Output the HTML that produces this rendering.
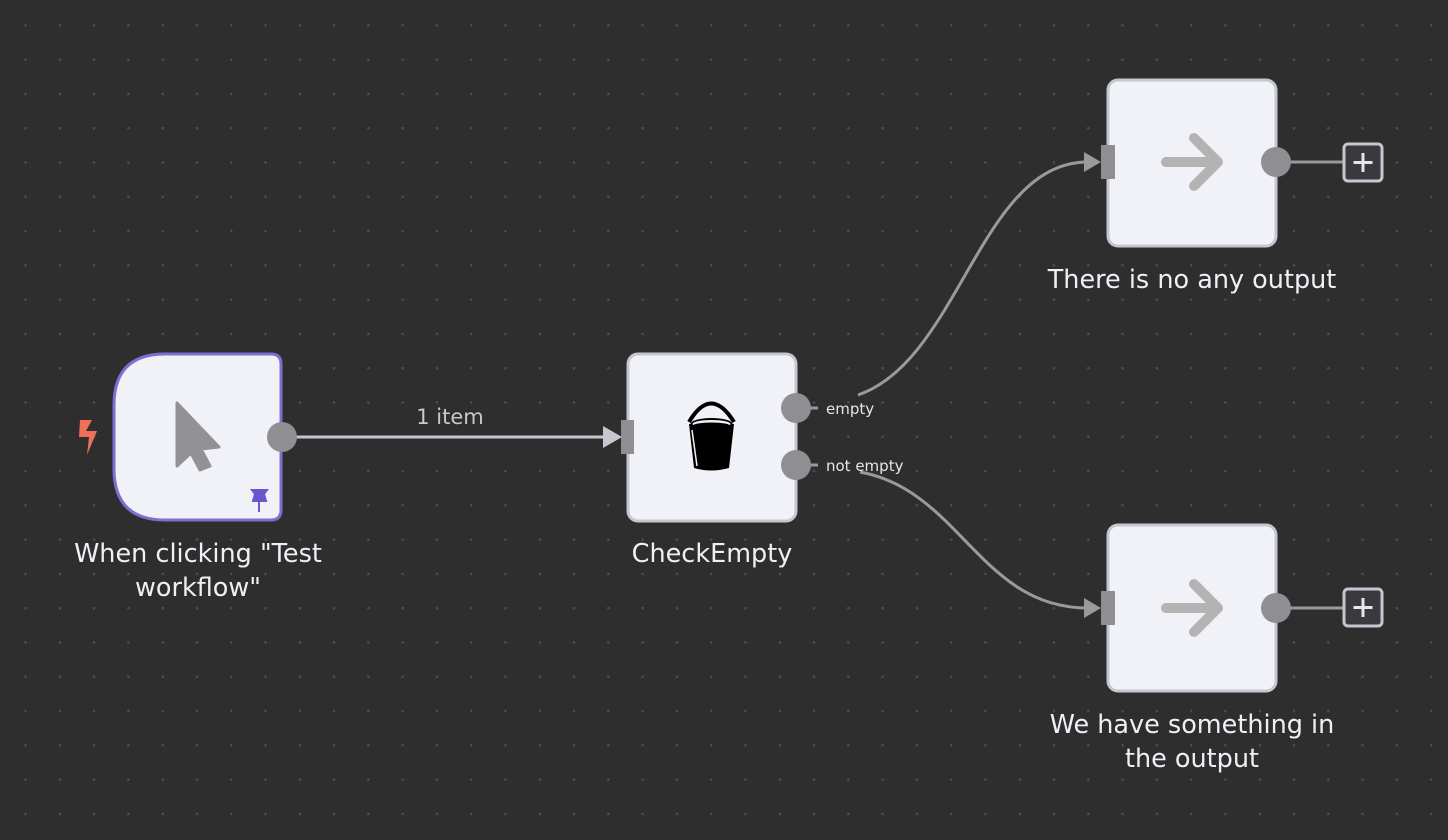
<!DOCTYPE html>
<html><head><meta charset="utf-8"><style>
html,body{margin:0;padding:0;}
body{width:1448px;height:840px;overflow:hidden;background:#2e2e2e;font-family:"DejaVu Sans","Liberation Sans",sans-serif;position:relative;
background-image:radial-gradient(circle,#4f4f4f 1.1px,transparent 1.4px);background-size:34.29px 34.29px;background-position:8.45px 8.25px;}
.lbl{position:absolute;color:#eef0f5;font-size:25.5px;line-height:34px;text-align:center;width:380px;}
</style></head><body>
<svg width="1448" height="840" style="position:absolute;left:0;top:0" font-family="DejaVu Sans, Liberation Sans, sans-serif">
<line x1="296" y1="437" x2="606" y2="437" stroke="#c6c8d1" stroke-width="3"/>
<polygon points="603,426 622,437 603,448" fill="#c6c8d1"/>
<text x="450" y="424" fill="#c6c8d1" font-size="21" text-anchor="middle">1 item</text>
<path d="M810 408 L818 408 M858 395 C960 360 980 162 1088 162" stroke="#9a9a9e" stroke-width="3" fill="none"/>
<polygon points="1084,152 1101,162 1084,172" fill="#9a9a9e"/>
<path d="M810 465 L818 465 M860 472 C960 490 980 608 1088 608" stroke="#9a9a9e" stroke-width="3" fill="none"/>
<polygon points="1084,598 1101,608 1084,618" fill="#9a9a9e"/>
<line x1="1290" y1="162" x2="1343" y2="162" stroke="#9a9a9e" stroke-width="3"/>
<line x1="1290" y1="608" x2="1343" y2="608" stroke="#9a9a9e" stroke-width="3"/>
<text x="826" y="414" fill="#e4e6eb" font-size="15">empty</text>
<text x="826" y="471" fill="#e4e6eb" font-size="15">not empty</text>
<path d="M165 354 H271 Q281 354 281 364 V510 Q281 520 271 520 H165 Q114 520 114 469 V405 Q114 354 165 354 Z" fill="#f1f2f8" stroke="#7d6fd2" stroke-width="3"/>
<path d="M177 403 L177 466 L191 453 L200 470 L210 466 L201 449 L219 447 Z" fill="#919196" stroke="#919196" stroke-width="3" stroke-linejoin="round"/>
<path d="M252 490 H267 L264 494 L266 501 H253 L255 494 Z M259 501 V512" fill="#6a57d0" stroke="#6a57d0" stroke-width="2"/>
<path d="M80 420 L92 420 L86 431 L97 431 L87 455 L89 437 L79 437 Z" fill="#f06f5a"/>
<circle cx="282" cy="437" r="15" fill="#8e8e93"/>
<rect x="628" y="354" width="168" height="167" rx="10" fill="#f1f2f8" stroke="#c5c7d0" stroke-width="3"/>
<path d="M689 422 Q711 385 734 422" stroke="#000" stroke-width="4" fill="none"/>
<path d="M689 424 L694 468 Q711 473 729 468 L734 424 Z" fill="#000"/>
<ellipse cx="711.5" cy="424" rx="21" ry="6" fill="#000"/>
<ellipse cx="711.5" cy="424" rx="19" ry="4" fill="#f1f2f8"/>
<ellipse cx="711.5" cy="426" rx="19" ry="3.5" fill="#000"/>
<line x1="692" y1="430" x2="697" y2="466" stroke="#f1f2f8" stroke-width="1.5"/>
<rect x="621" y="420" width="13" height="34" fill="#8e8e93"/>
<circle cx="796" cy="408" r="15" fill="#8e8e93"/>
<circle cx="796" cy="465" r="15" fill="#8e8e93"/>
<rect x="1108" y="80" width="168" height="166" rx="10" fill="#f1f2f8" stroke="#c5c7d0" stroke-width="3"/>
<path d="M1166 162 H1216 M1194 138 L1218 162 L1194 186" stroke="#b3b3b3" stroke-width="10" stroke-linecap="round" stroke-linejoin="round" fill="none"/>
<rect x="1101" y="145" width="14" height="34" fill="#8e8e93"/>
<circle cx="1276" cy="162" r="15" fill="#8e8e93"/>
<rect x="1344" y="144" width="38" height="37" rx="4" fill="#3a3a3e" stroke="#c5c7d0" stroke-width="3"/>
<path d="M1363 153 V172 M1353.5 162.5 H1372.5" stroke="#e4e6eb" stroke-width="3"/>
<rect x="1108" y="525" width="168" height="166" rx="10" fill="#f1f2f8" stroke="#c5c7d0" stroke-width="3"/>
<path d="M1166 608 H1216 M1194 584 L1218 608 L1194 632" stroke="#b3b3b3" stroke-width="10" stroke-linecap="round" stroke-linejoin="round" fill="none"/>
<rect x="1101" y="591" width="14" height="34" fill="#8e8e93"/>
<circle cx="1276" cy="608" r="15" fill="#8e8e93"/>
<rect x="1344" y="589" width="38" height="37" rx="4" fill="#3a3a3e" stroke="#c5c7d0" stroke-width="3"/>
<path d="M1363 598 V617 M1353.5 607.5 H1372.5" stroke="#e4e6eb" stroke-width="3"/>
</svg>
<div class="lbl" style="left:8px;top:537px">When clicking "Test<br>workflow"</div>
<div class="lbl" style="left:522px;top:537px">CheckEmpty</div>
<div class="lbl" style="left:1002px;top:263px">There is no any output</div>
<div class="lbl" style="left:1002px;top:708px">We have something in<br>the output</div>
</body></html>
